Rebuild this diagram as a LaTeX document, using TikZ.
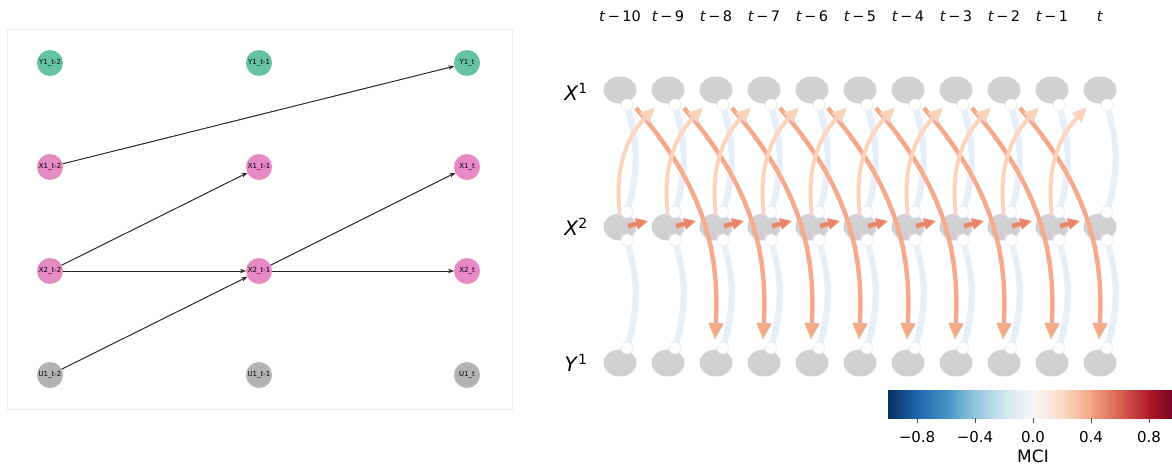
\documentclass[tikz,border=0pt]{standalone}
\usepackage{fontspec}
\setmainfont{DejaVu Sans}
\usetikzlibrary{arrows.meta,calc,positioning,shapes.geometric}
\definecolor{pgreen}{HTML}{66C2A5}
\definecolor{ppink}{HTML}{E78AC3}
\definecolor{pgray}{HTML}{B3B3B3}
\definecolor{vgray}{HTML}{D1D1D1}
\definecolor{lblue}{HTML}{E5EFF5}
\definecolor{mpale}{HTML}{FCD4BE}
\definecolor{mlag}{HTML}{F5AB8B}
\definecolor{mauto}{HTML}{EB8766}
\definecolor{c0}{HTML}{053061}
\definecolor{c1}{HTML}{2166AC}
\definecolor{c2}{HTML}{4393C3}
\definecolor{c3}{HTML}{92C5DE}
\definecolor{c4}{HTML}{D1E5F0}
\definecolor{c5}{HTML}{F7F7F7}
\definecolor{c6}{HTML}{FDDBC7}
\definecolor{c7}{HTML}{F4A582}
\definecolor{c8}{HTML}{D6604D}
\definecolor{c9}{HTML}{B2182B}
\definecolor{c10}{HTML}{67001F}

\begin{document}
\begin{tikzpicture}[x=1pt,y=-1pt,>=Stealth,
  dag/.style={circle,minimum size=26pt,inner sep=0pt,outer sep=0pt},
  dagedge/.style={-{Stealth[length=6pt,width=4.5pt]},line width=1pt,black!85},
  var/.style={ellipse,fill=vgray,minimum width=33pt,minimum height=27pt,inner sep=0pt},
  dot/.style={circle,fill=white,draw=lblue,line width=0.8pt,minimum size=12pt,inner sep=0pt},
  blink/.style={lblue,line width=6pt,bend left=16},
  pale/.style={mpale,line width=4pt,bend left=25,-{Triangle[length=15pt,width=13pt]}},
  lagtwo/.style={mlag,line width=4.5pt,bend left=22,-{Triangle[length=17pt,width=14pt]}},
  selfarr/.style={mauto,line width=4.5pt,-{Triangle[length=12pt,width=11pt]}},
  tlab/.style={font=\fontsize{14.5}{16}\selectfont},
  vlab/.style={font=\fontsize{20}{24}\selectfont}]
\useasboundingbox (0,0) rectangle (1172,469);

% left: time series graph
\draw[black!8] (7,29) rectangle (512,409);
\foreach \c/\x/\s in {0/50/t-2,1/259/t-1,2/467/t}{
  \node[dag,fill=pgreen,label={[font=\fontsize{7}{8}\selectfont]center:Y1\_\s}] (Y1-\c) at (\x,63) {};
  \node[dag,fill=ppink,label={[font=\fontsize{7}{8}\selectfont]center:X1\_\s}] (X1-\c) at (\x,167) {};
  \node[dag,fill=ppink,label={[font=\fontsize{7}{8}\selectfont]center:X2\_\s}] (X2-\c) at (\x,271) {};
  \node[dag,fill=pgray,label={[font=\fontsize{7}{8}\selectfont]center:U1\_\s}] (U1-\c) at (\x,375) {};
}
\draw[dagedge] (X1-0) -- (Y1-2);
\draw[dagedge] (X2-0) -- (X1-1);
\draw[dagedge] (X2-0) -- (X2-1);
\draw[dagedge] (X2-1) -- (X1-2);
\draw[dagedge] (X2-1) -- (X2-2);
\draw[dagedge] (U1-0) -- (X2-1);

% right: process graph
\node[vlab] (lx1) at (576,92) {\textit{X}\textsuperscript{1}};
\node[vlab] (lx2) at (576,227) {\textit{X}\textsuperscript{2}};
\node[vlab] (ly1) at (576,363) {\textit{Y}\textsuperscript{1}};
\foreach \i in {0,...,10}{
  \pgfmathtruncatemacro\lag{10-\i}
  \pgfmathsetmacro\x{620+48*\i}
  \ifnum\lag>0 \node[tlab] (tl\i) at (\x,16) {\textit{t}\,−\,\lag};
  \else \node[tlab] (tl\i) at (\x,16) {\textit{t}}; \fi
  \node[var] (xa\i) at (\x,90) {};
  \node[var] (xb\i) at (\x,227) {};
  \node[var] (ya\i) at (\x,363) {};
  \coordinate (xa\i-s) at (\x+7,105);
  \coordinate (xb\i-n) at (\x+7,212);
  \coordinate (xb\i-s) at (\x+7,240);
  \coordinate (ya\i-n) at (\x+7,348);
  \coordinate (xb\i-w) at (\x,215);
  \coordinate (xa\i-in) at (\x-13,107);
  \coordinate (xb\i-e) at (\x+8,226);
  \coordinate (xb\i-in) at (\x-20,221);
  \coordinate (xa\i-e) at (\x+16,108);
  \coordinate (ya\i-in) at (\x-1,340);
}
\foreach \i in {0,...,10}{
  \draw[blink] (xa\i-s) to (xb\i-n);
  \draw[blink] (xb\i-s) to (ya\i-n);
}
\foreach \i [evaluate=\i as \j using int(\i+2)] in {0,...,8}
  \draw[lagtwo] (xa\i-e) to (ya\j-in);
\foreach \i [evaluate=\i as \j using int(\i+1)] in {0,...,9}{
  \draw[pale] (xb\i-w) to (xa\j-in);
  \draw[selfarr] (xb\i-e) -- (xb\j-in);
}
\foreach \i in {0,...,10}{
  \node[dot] (dxa\i) at (xa\i-s) {};
  \node[dot] (dxbn\i) at (xb\i-n) {};
  \node[dot] (dxbs\i) at (xb\i-s) {};
  \node[dot] (dya\i) at (ya\i-n) {};
}

% colour bar
\begin{scope}
\clip (888,390) rectangle (1172,418);
\foreach \a/\b [count=\n from 0] in {c0/c1,c1/c2,c2/c3,c3/c4,c4/c5,c5/c6,c6/c7,c7/c8,c8/c9,c9/c10}
  \shade[left color=\a,right color=\b] (888+29*\n,390) rectangle (917.5+29*\n,418);
\end{scope}
\foreach \v/\l [count=\n] in {-0.8/−0.8,-0.4/−0.4,0/0.0,0.4/0.4,0.8/0.8}{
  \draw[black!70,line width=0.8pt] (1033+145*\v,418) -- (1033+145*\v,423);
  \node[font=\fontsize{15}{17}\selectfont] (tk\n) at (1033+145*\v,437) {\l};
}
\node[font=\fontsize{17}{19}\selectfont] (mci) at (1033,456) {MCI};
\end{tikzpicture}
\end{document}
